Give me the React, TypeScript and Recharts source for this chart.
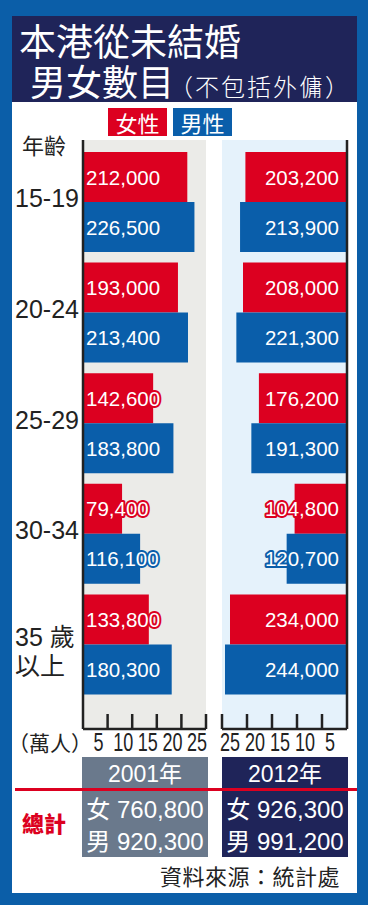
import { BarChart, Bar, XAxis, YAxis, CartesianGrid, LabelList } from "recharts";

const ages = ["15-19", "20-24", "25-29", "30-34", "35 歲\n以上"];
const female2001 = [212000, 193000, 142600, 79400, 133800];
const male2001 = [226500, 213400, 183800, 116100, 180300];
const female2012 = [203200, 208000, 176200, 104800, 234000];
const male2012 = [213900, 221300, 191300, 120700, 244000];
const axisTicks = [50000, 100000, 150000, 200000, 250000];
const years = ["2001年", "2012年"];
const totalFemale = [760800, 926300];
const totalMale = [920300, 991200];

const RED = "#dc0020";
const BLUE = "#0a5eaa";
const NAVY = "#1f2459";
const SLATE = "#6a798c";
const FRAME = "#0b5ea8";
const LATIN = "'Liberation Sans', Arial, 'Noto Sans CJK TC', sans-serif";
const CJK = "'Noto Sans CJK TC', 'Liberation Sans', sans-serif";

const data2001 = ages.map((age, i) => ({ age, female: female2001[i], male: male2001[i] }));
const data2012 = ages.map((age, i) => ({ age, female: female2012[i], male: male2012[i] }));

const fmt = (v: number) => v.toLocaleString("en-US");

function XTick({ x, y, payload, shift = 0 }: any) {
  return (
    <g>
      <line x1={x} x2={x} y1={y} y2={y - 15} stroke="#222" strokeWidth={2.5} />
      <text
        transform={`translate(${x + shift},${y + 22}) scale(0.72,1)`}
        textAnchor="middle"
        fontSize={25}
        fill="#222"
        fontFamily={LATIN}
      >
        {payload.value / 10000}
      </text>
    </g>
  );
}

function AgeTick({ x, y, payload }: any) {
  const lines = String(payload.value).split("\n");
  const start = lines.length > 1 ? y - 8 : y - 4;
  return (
    <text x={x - 68} y={start} textAnchor="start" fontSize={25} fill="#222" fontFamily={LATIN}>
      {lines.map((l, i) => (
        <tspan key={i} x={x - 68} dy={i === 0 ? 0 : 29} dominantBaseline="central">
          {l}
        </tspan>
      ))}
    </text>
  );
}

function makeLabel(color: string, side: "left" | "right") {
  return (props: any) => {
    const { x, y, width, height, value } = props;
    const lo = Math.min(x, x + width);
    const hi = Math.max(x, x + width);
    return (
      <text
        x={side === "left" ? lo + 3 : hi - 8}
        y={y + height / 2}
        textAnchor={side === "left" ? "start" : "end"}
        dominantBaseline="central"
        fontSize={20.5}
        fontFamily={LATIN}
        fill="#fff"
        stroke={color}
        strokeWidth={4}
        strokeLinejoin="round"
        style={{ paintOrder: "stroke" }}
      >
        {fmt(value)}
      </text>
    );
  };
}

function YearBox({ left, bg, i }: { left: number; bg: string; i: number }) {
  return (
    <div style={{ position: "absolute", left, top: 757, width: 126, height: 100, background: bg, color: "#fff" }}>
      <div style={{ position: "absolute", top: 3, width: "100%", textAlign: "center", fontSize: 23, lineHeight: "28px", fontFamily: LATIN }}>
        {years[i]}
      </div>
      <div style={{ position: "absolute", top: 37, width: "100%", textAlign: "center", fontSize: 24, lineHeight: "32px", fontFamily: LATIN }}>
        女 {fmt(totalFemale[i])}
        <br />
        男 {fmt(totalMale[i])}
      </div>
    </div>
  );
}

export default function App() {
  return (
    <div style={{ position: "absolute", left: 0, top: 0, width: 368, height: 905, background: FRAME, overflow: "hidden" }}>
      <div style={{ position: "absolute", left: 12, top: 16, width: 345, height: 877, background: "#fff" }} />
      {/* title */}
      <div style={{ position: "absolute", left: 12, top: 16, width: 345, height: 86, background: NAVY }} />
      <div style={{ position: "absolute", left: 19, top: 23, fontSize: 37, lineHeight: "34px", color: "#fff", fontFamily: CJK, whiteSpace: "nowrap" }}>
        本港從未結婚
      </div>
      <div style={{ position: "absolute", left: 30, top: 63, fontSize: 36, lineHeight: "34px", color: "#fff", fontFamily: CJK, whiteSpace: "nowrap" }}>
        男女數目
        <span style={{ fontSize: 24, fontWeight: 300, letterSpacing: 2, marginLeft: -5 }}>（不包括外傭）</span>
      </div>

      {/* legend */}
      <div style={{ position: "absolute", left: 108, top: 108, width: 59, height: 28, background: RED, color: "#fff", fontSize: 22, lineHeight: "28px", textAlign: "center", fontFamily: CJK }}>
        女性
      </div>
      <div style={{ position: "absolute", left: 173, top: 108, width: 59, height: 28, background: BLUE, color: "#fff", fontSize: 22, lineHeight: "28px", textAlign: "center", fontFamily: CJK }}>
        男性
      </div>
      <div style={{ position: "absolute", left: 22, top: 131, fontSize: 22, lineHeight: "26px", color: "#222", fontFamily: CJK }}>年齡</div>

      {/* 2001 */}
      <div style={{ position: "absolute", left: 0, top: 140 }}>
        <BarChart
          width={222}
          height={619}
          data={data2001}
          layout="vertical"
          barSize={50}
          barGap={0}
          margin={{ top: 0, right: 16, left: 0, bottom: 0 }}
        >
          <CartesianGrid horizontal={false} vertical={false} fill="#ebebe8" fillOpacity={1} stroke="none" />
          <XAxis
            type="number"
            domain={[0, 250000]}
            ticks={axisTicks}
            interval={0}
            allowDataOverflow
            height={30}
            tickSize={0}
            tickMargin={0}
            tick={<XTick shift={-9} />}
            axisLine={{ stroke: "#222", strokeWidth: 2.5 }}
          />
          <YAxis
            type="category"
            dataKey="age"
            width={83}
            padding={{ top: 7, bottom: 29 }}
            tickLine={false}
            tickSize={0}
            tickMargin={0}
            tick={<AgeTick />}
            axisLine={{ stroke: "#222", strokeWidth: 2.5 }}
          />
          <Bar dataKey="female" fill={RED} isAnimationActive={false}>
            <LabelList dataKey="female" content={makeLabel(RED, "left")} />
          </Bar>
          <Bar dataKey="male" fill={BLUE} isAnimationActive={false}>
            <LabelList dataKey="male" content={makeLabel(BLUE, "left")} />
          </Bar>
        </BarChart>
      </div>

      {/* 2012 */}
      <div style={{ position: "absolute", left: 210, top: 140 }}>
        <BarChart
          width={146}
          height={619}
          data={data2012}
          layout="vertical"
          barSize={50}
          barGap={0}
          margin={{ top: 0, right: 6, left: 12, bottom: 0 }}
        >
          <CartesianGrid horizontal={false} vertical={false} fill="#e5f2fb" fillOpacity={1} stroke="none" />
          <XAxis
            type="number"
            domain={[0, 250000]}
            ticks={axisTicks}
            interval={0}
            reversed
            allowDataOverflow
            height={30}
            tickSize={0}
            tickMargin={0}
            tick={<XTick shift={8} />}
            axisLine={{ stroke: "#222", strokeWidth: 2.5 }}
          />
          <YAxis
            type="category"
            dataKey="age"
            orientation="right"
            width={3}
            padding={{ top: 7, bottom: 29 }}
            tick={false}
            tickLine={false}
            axisLine={{ stroke: "#222", strokeWidth: 2.5 }}
          />
          <Bar dataKey="female" fill={RED} isAnimationActive={false}>
            <LabelList dataKey="female" content={makeLabel(RED, "right")} />
          </Bar>
          <Bar dataKey="male" fill={BLUE} isAnimationActive={false}>
            <LabelList dataKey="male" content={makeLabel(BLUE, "right")} />
          </Bar>
        </BarChart>
      </div>

      <div style={{ position: "absolute", left: 8, top: 730, fontSize: 21, lineHeight: "25px", color: "#222", fontFamily: CJK }}>（萬人）</div>

      {/* totals */}
      <YearBox left={82} bg={SLATE} i={0} />
      <YearBox left={222} bg={NAVY} i={1} />
      <div style={{ position: "absolute", left: 15, top: 788, width: 342, height: 3, background: RED }} />
      <div style={{ position: "absolute", left: 22, top: 808, fontSize: 22, lineHeight: "28px", color: RED, fontWeight: 900, fontFamily: CJK }}>總計</div>
      <div style={{ position: "absolute", left: 160, top: 861, fontSize: 22, lineHeight: "28px", color: "#222", fontFamily: CJK, letterSpacing: 0.5 }}>
        資料來源：統計處
      </div>
    </div>
  );
}
